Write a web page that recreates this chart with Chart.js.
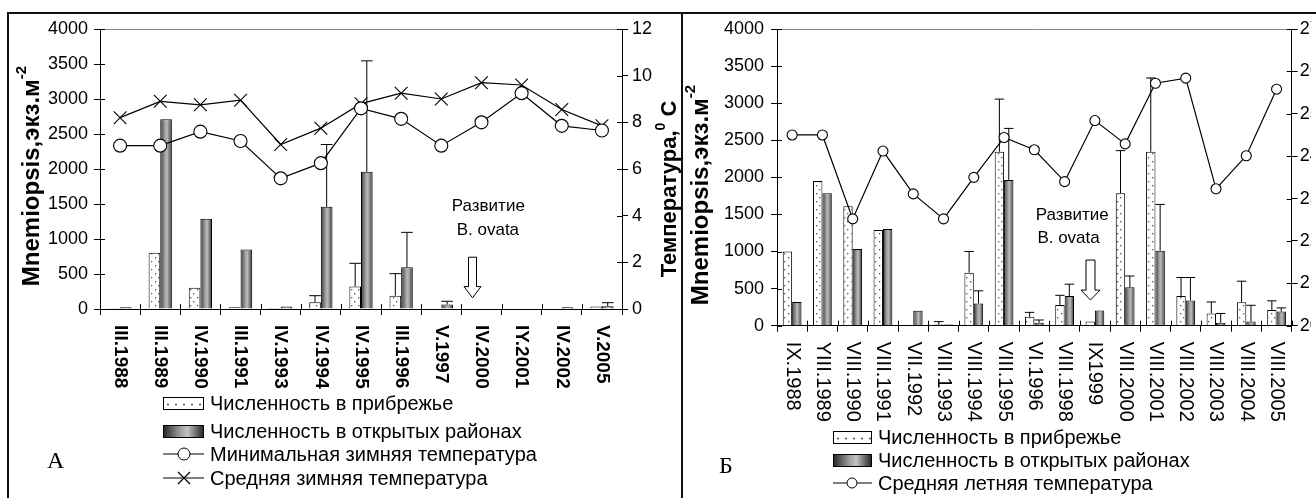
<!DOCTYPE html>
<html lang="ru">
<head>
<meta charset="UTF-8">
<title>Mnemiopsis</title>
<script src="https://cdn.jsdelivr.net/npm/chart.js"></script>
<style>
  html, body { margin: 0; padding: 0; background: #fff; overflow: hidden; }
  #wrap { position: relative; width: 1316px; height: 498px; overflow: hidden; }
  canvas { position: absolute; top: 0; }
  #chartA { left: 0; }
  #chartB { left: 682px; }
  .line { position: absolute; background: #111; }
  .item { position: absolute; height: 22px; display: flex; align-items: center; white-space: nowrap;
          font-family: 'Liberation Sans', Arial, sans-serif; font-size: 20px; color: #000; }
  .item svg, .item .sw { margin-right: 6px; flex: none; }
  .sw { box-sizing: border-box; border: 1px solid #000; height: 13px; }
  .dots { background-color: #fff; background-image: radial-gradient(circle, #555 0.9px, transparent 1.2px); background-size: 8px 13px; }
  .grad { background: linear-gradient(90deg, #2a2a2a, #9a9a9a 40%, #c4c4c4 60%, #2a2a2a); }
  .tag { position: absolute; font-family: 'Liberation Serif', 'Times New Roman', serif; font-size: 24px; }
</style>
</head>
<body>
<div id="wrap">
  <canvas id="chartA" width="682" height="498"></canvas>
  <canvas id="chartB" width="629" height="498"></canvas>

  <div class="line" style="left:8px; top:12px; width:1308px; height:2px;"></div>
  <div class="line" style="left:7px; top:12px; width:2px; height:486px;"></div>
  <div class="line" style="left:681px; top:12px; width:2px; height:486px;"></div>

  <div class="item" style="left:163px; top:392px;"><div class="sw dots" style="width:41px"></div>Численность в прибрежье</div>
  <div class="item" style="left:163px; top:420px;"><div class="sw grad" style="width:41px"></div>Численность в открытых районах</div>
  <div class="item" style="left:163px; top:443px;">
    <svg width="41" height="16"><line x1="0" y1="8" x2="41" y2="8" stroke="#000" stroke-width="1.2"/><circle cx="21" cy="8" r="6" fill="#fff" stroke="#000" stroke-width="1"/></svg>Минимальная зимняя температура</div>
  <div class="item" style="left:163px; top:467px;">
    <svg width="41" height="16"><line x1="0" y1="8" x2="41" y2="8" stroke="#000" stroke-width="1.2"/><path d="M15 2 L27 14 M27 2 L15 14" stroke="#000" stroke-width="1.2"/></svg>Средняя зимняя температура</div>

  <div class="item" style="left:833px; top:426px;"><div class="sw dots" style="width:39px"></div>Численность в прибрежье</div>
  <div class="item" style="left:833px; top:449px;"><div class="sw grad" style="width:39px"></div>Численность в открытых районах</div>
  <div class="item" style="left:833px; top:472px;">
    <svg width="39" height="16"><line x1="0" y1="8" x2="39" y2="8" stroke="#000" stroke-width="1.2"/><circle cx="19" cy="8" r="5" fill="#fff" stroke="#000" stroke-width="1"/></svg>Средняя летняя температура</div>

  <div class="tag" style="left:47px; top:447px;">А</div>
  <div class="tag" style="left:719px; top:452px;">Б</div>
</div>

<script>
  // ---- panel A (winter) ----
  const catsA = ['III.1988', 'III.1989', 'IV.1990', 'III.1991', 'IV.1993', 'IV.1994', 'IV.1995',
                 'III.1996', 'V.1997', 'IV.2000', 'IY.2001', 'IV.2002', 'V.2005'];
  const coastA    = [5, 805, 305, 25, 15, 95, 320, 190, 0, 0, 0, 0, 35];
  const coastErrA = [null, null, null, null, null, 190, 653, 505, null, null, null, null, null];
  const openA     = [25, 2710, 1290, 850, 35, 1460, 1960, 595, 65, 0, 0, 25, 40];
  const openErrA  = [null, null, null, null, null, 2350, 3545, 1095, 110, null, null, null, 90];
  const minTempA  = [7.0, 7.0, 7.6, 7.2, 5.6, 6.25, 8.6, 8.15, 7.0, 8.0, 9.25, 7.85, 7.65];
  const meanTempA = [8.2, 8.9, 8.75, 8.95, 7.05, 7.75, 8.8, 9.25, 9.0, 9.7, 9.6, 8.55, 7.85];

  // ---- panel B (summer) ----
  const catsB = ['IX.1988', 'YIII.1989', 'VIII.1990', 'VIII.1991', 'VII.1992', 'VIII.1993', 'VIII.1994',
                 'VIII.1995', 'VI.1996', 'VIII.1998', 'IX1999', 'VIII.2000', 'VIII.2001', 'VIII.2002',
                 'VIII.2003', 'VIII.2004', 'VIII.2005'];
  const coastB    = [1000, 1950, 1610, 1290, 0, 15, 715, 2345, 120, 280, 55, 1785, 2345, 400, 165, 315, 210];
  const coastErrB = [null, null, null, null, null, 55, 1000, 3055, 180, 410, null, 2360, 3340, 650, 320, 600, 335];
  const openB     = [320, 1785, 1035, 1305, 200, 15, 300, 1965, 40, 400, 205, 520, 1010, 340, 40, 55, 190];
  const openErrB  = [null, null, null, null, null, null, 470, 2660, 77, 560, null, 670, 1635, 650, 165, 275, 240];
  const summerTempB = [24.5, 24.5, 22.52, 24.12, 23.11, 22.52, 23.5, 24.44, 24.15, 23.4, 24.84,
                       24.29, 25.72, 25.84, 23.23, 24.01, 25.58];

  const numTicks   = { min: 0, max: 4000, step: 500 };
  const tempTicksA = { min: 0, max: 12, step: 2 };
  const tempTicksB = { min: 20, max: 27, step: 1 };

  const FONT = "'Liberation Sans', Arial, sans-serif";

  // dotted fill for coastal bars
  const dotFill = (() => {
    const c = document.createElement('canvas');
    c.width = 7; c.height = 8;
    const g = c.getContext('2d');
    g.fillStyle = '#fff'; g.fillRect(0, 0, 7, 8);
    g.fillStyle = '#555';
    g.fillRect(1, 1, 1.3, 1.3);
    g.fillRect(4, 5, 1.3, 1.3);
    return g.createPattern(c, 'repeat');
  })();

  // grey cylinder-like gradient for open-sea bars
  function openFill(pct) {
    return function (c) {
      const chart = c.chart, xs = chart.scales && chart.scales.x;
      if (c.dataIndex === undefined || !xs || !isFinite(xs.left) || xs.right <= xs.left) return '#888';
      const cw = (xs.right - xs.left) / chart.data.labels.length;
      const bw = cw * pct / 2;
      const x0 = xs.getPixelForValue(c.dataIndex);
      const g = chart.ctx.createLinearGradient(x0, 0, x0 + bw, 0);
      g.addColorStop(0, '#3a3a3a');
      g.addColorStop(0.45, '#aaaaaa');
      g.addColorStop(0.6, '#b8b8b8');
      g.addColorStop(1, '#333333');
      return g;
    };
  }

  function drawArrow(ctx, x, yTop, yTip, headW, shaftW, headStart) {
    ctx.beginPath();
    ctx.moveTo(x - shaftW / 2, yTop);
    ctx.lineTo(x + shaftW / 2, yTop);
    ctx.lineTo(x + shaftW / 2, headStart);
    ctx.lineTo(x + headW / 2, headStart);
    ctx.lineTo(x, yTip);
    ctx.lineTo(x - headW / 2, headStart);
    ctx.lineTo(x - shaftW / 2, headStart);
    ctx.closePath();
    ctx.fillStyle = '#fff';
    ctx.fill();
    ctx.lineWidth = 1;
    ctx.strokeStyle = '#000';
    ctx.stroke();
  }

  function rotatedTitle(ctx, cx, cy, main, sup, tail, size) {
    ctx.save();
    ctx.translate(cx, cy);
    ctx.rotate(-Math.PI / 2);
    ctx.fillStyle = '#000';
    ctx.textBaseline = 'middle';
    ctx.textAlign = 'left';
    const big = 'bold ' + size + 'px ' + FONT, small = 'bold ' + Math.round(size * 0.62) + 'px ' + FONT;
    ctx.font = big; const w1 = ctx.measureText(main).width, w3 = ctx.measureText(tail).width;
    ctx.font = small; const w2 = ctx.measureText(sup).width;
    let x = -(w1 + w2 + w3) / 2;
    ctx.font = big; ctx.fillText(main, x, 0); x += w1;
    ctx.font = small; ctx.fillText(sup, x, -size * 0.42); x += w2;
    ctx.font = big; ctx.fillText(tail, x, 0);
    ctx.restore();
  }

  const decor = {
    id: 'decor',
    afterDatasetDraw(chart, args) {
      const ds = chart.data.datasets[args.index];
      if (!ds.errTop) return;
      const ctx = chart.ctx, ys = chart.scales.y;
      ctx.save();
      ctx.strokeStyle = '#000';
      ctx.lineWidth = 1;
      ds.errTop.forEach((e, j) => {
        if (e == null) return;
        const bar = args.meta.data[j];
        const yE = ys.getPixelForValue(e);
        ctx.beginPath();
        ctx.moveTo(bar.x, bar.y);
        ctx.lineTo(bar.x, yE);
        ctx.moveTo(bar.x - bar.width / 2, yE);
        ctx.lineTo(bar.x + bar.width / 2, yE);
        ctx.stroke();
      });
      ctx.restore();
    },
    afterDraw(chart, args, o) {
      const ctx = chart.ctx, xs = chart.scales.x, ys = chart.scales.y, y2 = chart.scales.y2;
      const area = chart.chartArea;
      ctx.save();
      // top frame line of plot
      ctx.strokeStyle = '#8a8a8a';
      ctx.lineWidth = 1;
      ctx.beginPath();
      ctx.moveTo(area.left, Math.round(area.top) + 0.5);
      ctx.lineTo(area.right, Math.round(area.top) + 0.5);
      ctx.stroke();
      // inward halves of the tick marks
      ctx.strokeStyle = '#000';
      ctx.beginPath();
      ys.ticks.forEach(t => {
        const y = Math.round(ys.getPixelForValue(t.value)) + 0.5;
        ctx.moveTo(area.left, y); ctx.lineTo(area.left + 5, y);
      });
      y2.ticks.forEach(t => {
        const y = Math.round(y2.getPixelForValue(t.value)) + 0.5;
        ctx.moveTo(area.right, y); ctx.lineTo(area.right - 5, y);
      });
      const n = chart.data.labels.length;
      for (let i = 0; i <= n; i++) {
        const x = Math.round(xs.getPixelForValue(i - 0.5)) + 0.5;
        ctx.moveTo(x, area.bottom); ctx.lineTo(x, area.bottom - 5);
      }
      ctx.stroke();

      // category labels, rotated clockwise
      ctx.font = o.labelFont;
      ctx.fillStyle = '#000';
      ctx.textAlign = 'left';
      ctx.textBaseline = 'middle';
      chart.data.labels.forEach((lab, i) => {
        ctx.save();
        ctx.translate(xs.getPixelForValue(i), area.bottom + o.labelGap);
        ctx.rotate(Math.PI / 2);
        ctx.fillText(lab, 0, 0);
        ctx.restore();
      });

      // axis titles
      o.titles.forEach(t => rotatedTitle(ctx, t.x, t.y, t.main, t.sup, t.tail, t.size));

      // B. ovata note + arrow
      const a = o.note;
      ctx.font = '17px ' + FONT;
      ctx.textAlign = 'center';
      ctx.fillStyle = '#000';
      a.text.forEach(([s, xi, v]) => ctx.fillText(s, xs.getPixelForValue(xi), ys.getPixelForValue(v)));
      drawArrow(ctx, Math.round(xs.getPixelForValue(a.arrowAt)) + 0.5,
                ys.getPixelForValue(a.arrowFrom), ys.getPixelForValue(a.arrowTo),
                a.headW, a.shaftW, ys.getPixelForValue(a.headAt));
      ctx.restore();
    }
  };

  function makeChart(id, cfg) {
    const pct = cfg.pct;
    const tickFont = { family: FONT, size: 18 };
    const plain = v => String(v);
    const datasets = cfg.lines.map(l => Object.assign({
      type: 'line', yAxisID: 'y2', order: 0, borderColor: '#000', borderWidth: 1.2,
      pointBackgroundColor: '#fff', pointBorderColor: '#000', pointBorderWidth: 1.1, tension: 0
    }, l));
    datasets.push({ label: 'Численность в прибрежье', data: cfg.coast, errTop: cfg.coastErr, order: 1,
                    backgroundColor: dotFill, borderColor: '#000', borderWidth: 1, borderSkipped: 'bottom' });
    datasets.push({ label: 'Численность в открытых районах', data: cfg.open, errTop: cfg.openErr, order: 1,
                    backgroundColor: openFill(pct), borderColor: '#000', borderWidth: 1, borderSkipped: 'bottom' });

    return new Chart(document.getElementById(id), {
      type: 'bar',
      data: { labels: cfg.labels, datasets },
      options: {
        responsive: false,
        animation: false,
        events: [],
        layout: { padding: { top: cfg.top, left: 0, right: 0, bottom: 0 } },
        datasets: { bar: { categoryPercentage: pct, barPercentage: 1 } },
        plugins: {
          legend: { display: false },
          tooltip: { enabled: false },
          decor: cfg.decor
        },
        scales: {
          x: {
            type: 'category', offset: true,
            grid: { offset: true, drawOnChartArea: false, drawTicks: true, tickLength: 6, color: '#000' },
            border: { color: '#000', width: 1 },
            ticks: { display: false },
            afterFit: s => { s.height = cfg.xHeight; }
          },
          y: {
            position: 'left', min: numTicks.min, max: numTicks.max,
            ticks: { stepSize: numTicks.step, color: '#000', font: tickFont, padding: cfg.yPad, callback: plain },
            grid: { drawOnChartArea: false, tickLength: 6, color: '#000' },
            border: { color: '#000', width: 1 },
            afterFit: s => { s.width = cfg.yWidth; }
          },
          y2: {
            position: 'right', min: cfg.temp.min, max: cfg.temp.max,
            ticks: { stepSize: cfg.temp.step, color: '#000', font: tickFont, padding: cfg.y2Pad, callback: plain },
            grid: { drawOnChartArea: false, tickLength: 6, color: '#000' },
            border: { color: '#000', width: 1 },
            afterFit: s => { s.width = cfg.y2Width; }
          }
        }
      },
      plugins: [decor]
    });
  }

  makeChart('chartA', {
    labels: catsA, coast: coastA, coastErr: coastErrA, open: openA, openErr: openErrA,
    lines: [
      { label: 'Минимальная зимняя температура', data: minTempA, pointStyle: 'circle', pointRadius: 6.5 },
      { label: 'Средняя зимняя температура', data: meanTempA, pointStyle: 'crossRot', pointRadius: 9 }
    ],
    temp: tempTicksA, pct: 0.58, top: 29, xHeight: 189, yWidth: 100, y2Width: 60, yPad: 6, y2Pad: 4,
    decor: {
      labelFont: 'bold 19px ' + FONT, labelGap: 16,
      titles: [
        { x: 32, y: 176, main: 'Mnemiopsis,экз.м', sup: '-2', tail: '', size: 24 },
        { x: 670, y: 189, main: 'Температура,', sup: '0', tail: ' С', size: 22 }
      ],
      note: { text: [['Развитие', 9.17, 1470], ['B. ovata', 9.16, 1130]],
              arrowAt: 8.77, arrowFrom: 740, arrowTo: 160, headAt: 320, headW: 17, shaftW: 8 }
    }
  });

  makeChart('chartB', {
    labels: catsB, coast: coastB, coastErr: coastErrB, open: openB, openErr: openErrB,
    lines: [
      { label: 'Средняя летняя температура', data: summerTempB, pointStyle: 'circle', pointRadius: 5 }
    ],
    temp: tempTicksB, pct: 0.62, top: 29, xHeight: 172.3, yWidth: 95, y2Width: 19.3, yPad: 7, y2Pad: 2,
    decor: {
      labelFont: '20px ' + FONT, labelGap: 16,
      titles: [
        { x: 19, y: 195, main: 'Mnemiopsis,экз.м', sup: '-2', tail: '', size: 24 }
      ],
      note: { text: [['Развитие', 9.25, 1490], ['B. ovata', 9.13, 1180]],
              arrowAt: 9.84, arrowFrom: 885, arrowTo: 346, headAt: 480, headW: 19, shaftW: 9 }
    }
  });
</script>
</body>
</html>
